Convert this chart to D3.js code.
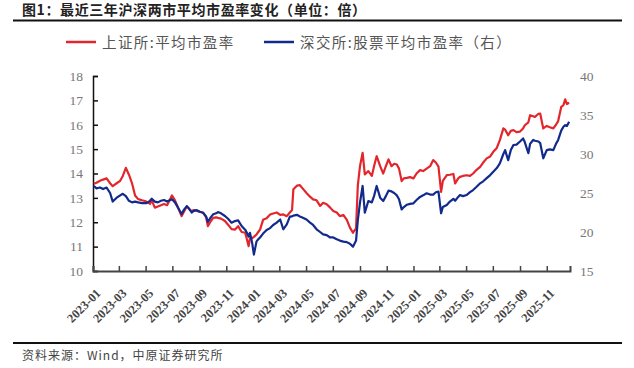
<!DOCTYPE html>
<html>
<head>
<meta charset="utf-8">
<script src="https://cdn.jsdelivr.net/npm/d3@7"></script>
<style>
  html, body { margin: 0; padding: 0; background: #fff; }
  svg { display: block; }
</style>
</head>
<body>
<svg id="chart" width="634" height="368"></svg>
<script>
const titleText = "图1：最近三年沪深两市平均市盈率变化（单位：倍）";
const sourceText = "资料来源：Wind，中原证券研究所";
const seriesNames = ["上证所:平均市盈率", "深交所:股票平均市盈率（右）"];

const dates = [
"2023-01-03","2023-01-09","2023-01-17","2023-01-24","2023-02-01","2023-02-09","2023-02-15","2023-02-24",
"2023-03-04","2023-03-10","2023-03-17","2023-03-24","2023-03-31","2023-04-07","2023-04-14","2023-04-23",
"2023-05-03","2023-05-11","2023-05-15","2023-05-22","2023-05-29","2023-06-05","2023-06-12","2023-06-19",
"2023-06-30","2023-07-07","2023-07-14","2023-07-22","2023-07-28","2023-08-03","2023-08-08","2023-08-14",
"2023-08-19","2023-08-26","2023-09-02","2023-09-09","2023-09-16","2023-09-20","2023-09-27","2023-10-02",
"2023-10-09","2023-10-13","2023-10-20","2023-10-29","2023-11-05","2023-11-13","2023-11-21","2023-11-28",
"2023-12-06","2023-12-14","2023-12-18","2023-12-22","2023-12-25","2023-12-30","2024-01-03","2024-01-09",
"2024-01-13","2024-01-17","2024-01-24","2024-02-01","2024-02-09","2024-02-16","2024-02-24","2024-03-03",
"2024-03-10","2024-03-18","2024-03-25","2024-03-30","2024-04-02","2024-04-10","2024-04-17","2024-04-25",
"2024-05-02","2024-05-10","2024-05-17","2024-05-25","2024-06-02","2024-06-09","2024-06-17","2024-06-25",
"2024-07-02","2024-07-10","2024-07-17","2024-07-25","2024-08-02","2024-08-09","2024-08-16","2024-08-23",
"2024-08-27","2024-09-01","2024-09-07","2024-09-12","2024-09-20","2024-09-28","2024-10-03","2024-10-09",
"2024-10-17","2024-10-24","2024-10-30","2024-11-05","2024-11-12","2024-11-18","2024-11-24","2024-11-29",
"2024-12-05","2024-12-10","2024-12-17","2024-12-24","2025-01-01","2025-01-08","2025-01-16","2025-01-23",
"2025-01-31","2025-02-08","2025-02-15","2025-02-21","2025-02-27","2025-03-05","2025-03-09","2025-03-18",
"2025-03-25","2025-04-02","2025-04-06","2025-04-13","2025-04-17","2025-04-24","2025-05-02","2025-05-10",
"2025-05-17","2025-05-25","2025-06-02","2025-06-09","2025-06-17","2025-06-25","2025-07-02","2025-07-10",
"2025-07-17","2025-07-25","2025-07-29","2025-08-05","2025-08-11","2025-08-17","2025-08-24","2025-09-01",
"2025-09-08","2025-09-12","2025-09-20","2025-09-24","2025-10-01","2025-10-05","2025-10-13","2025-10-17",
"2025-10-24","2025-11-01","2025-11-08","2025-11-16","2025-11-22","2025-11-27","2025-12-04","2025-12-09",
"2025-12-13","2025-12-17","2025-12-22"
];

const shPE = [
13.58,13.62,13.70,13.75,13.80,13.60,13.48,13.60,
13.70,13.90,14.23,13.95,13.60,13.10,12.95,12.90,
12.85,12.75,12.90,12.60,12.65,12.70,12.75,12.70,
13.10,12.90,12.60,12.25,12.45,12.66,12.55,12.45,
12.50,12.46,12.42,12.40,12.20,11.84,12.05,12.18,
12.20,12.18,12.15,12.05,11.90,11.72,11.70,11.84,
11.60,11.57,11.30,11.02,11.34,11.35,11.40,11.50,
11.60,11.70,12.10,12.16,12.32,12.36,12.40,12.30,
12.32,12.25,12.40,12.50,13.35,13.50,13.52,13.35,
13.20,13.05,12.94,12.90,12.67,12.80,12.74,12.60,
12.46,12.40,12.25,12.30,12.10,11.78,11.57,11.75,
13.50,14.30,14.85,13.96,14.10,13.90,14.30,14.71,
14.30,14.00,14.30,14.58,14.30,14.40,14.37,14.20,
13.69,13.80,13.82,13.85,13.80,14.00,14.14,14.10,
14.20,14.30,14.55,14.45,14.28,13.25,13.70,13.93,
13.95,13.98,13.59,13.80,13.86,13.90,13.93,13.90,
14.00,14.15,14.27,14.45,14.62,14.70,14.89,15.05,
15.37,15.85,15.80,15.57,15.75,15.78,15.70,15.72,
15.85,15.98,16.10,16.39,16.35,16.32,16.45,16.46,
15.85,15.95,15.90,15.85,16.00,16.15,16.73,16.80,
17.04,16.85,16.90
];

const szPE = [
25.9,25.6,25.7,25.5,25.7,25.0,23.9,24.4,
24.7,24.9,24.6,24.0,23.8,23.9,23.8,23.7,
23.7,24.0,24.27,23.9,23.8,24.0,24.1,23.9,
24.2,23.8,23.1,22.3,22.9,23.3,23.0,22.5,
22.7,22.8,22.6,22.47,22.0,21.3,21.9,22.27,
22.4,22.56,22.4,22.05,21.7,21.2,21.4,21.5,
20.77,20.3,19.9,19.4,19.9,18.6,17.1,18.8,
19.06,19.3,19.8,20.26,20.5,20.9,21.2,21.6,
20.35,20.98,21.96,22.0,22.1,22.2,22.0,21.8,
21.6,21.2,20.9,20.35,20.0,19.7,19.6,19.3,
19.3,19.06,18.9,18.76,18.7,18.5,18.12,18.9,
21.5,23.76,25.9,22.47,23.97,23.8,24.6,25.9,
24.4,23.97,24.6,25.3,25.2,25.0,24.7,24.2,
22.9,23.2,23.5,23.6,23.68,24.1,24.5,24.7,
24.96,24.8,24.8,25.1,25.17,22.4,23.2,23.46,
23.9,24.25,24.0,24.5,24.74,24.6,24.74,25.1,
25.38,25.8,26.24,26.5,26.9,27.3,27.73,28.2,
28.8,30.0,30.5,29.2,30.5,31.15,31.2,31.6,
32.0,31.5,30.1,31.3,31.8,31.7,31.6,31.4,
29.45,30.5,30.6,30.5,31.3,31.8,33.0,33.5,
33.7,33.6,34.15
];

const leftTicks = [10, 11, 12, 13, 14, 15, 16, 17, 18];
const rightTicks = [15, 20, 25, 30, 35, 40];
const xTickLabels = ["2023-01","2023-03","2023-05","2023-07","2023-09","2023-11",
  "2024-01","2024-03","2024-05","2024-07","2024-09","2024-11",
  "2025-01","2025-03","2025-05","2025-07","2025-09","2025-11"];

const colors = ["#e3262b", "#112a8b"];

const parse = d3.timeParse("%Y-%m-%d");
const parseMonth = d3.timeParse("%Y-%m");
const fmtMonth = d3.timeFormat("%Y-%m");

const svg = d3.select("#chart");
const cjk = "'Noto Sans CJK SC', 'Noto Sans', sans-serif";
const serif = "'Liberation Serif', 'DejaVu Serif', serif";

// Title
svg.append("text").attr("x", 22).attr("y", 15)
  .attr("font-family", cjk).attr("font-size", 14).attr("font-weight", "bold")
  .attr("letter-spacing", 0.6)
  .attr("fill", "#222").text(titleText);
svg.append("line").attr("x1", 13).attr("x2", 622).attr("y1", 20.5).attr("y2", 20.5)
  .attr("stroke", "#111").attr("stroke-width", 2);

// Legend
const legendItems = [
  { x: 66, tx: 102, name: seriesNames[0], color: colors[0] },
  { x: 264, tx: 300, name: seriesNames[1], color: colors[1] }
];
legendItems.forEach(it => {
  svg.append("line").attr("x1", it.x).attr("x2", it.x + 30).attr("y1", 42).attr("y2", 42)
    .attr("stroke", it.color).attr("stroke-width", 2.5);
  svg.append("text").attr("x", it.tx).attr("y", 47.5)
    .attr("font-family", cjk).attr("font-size", 14.5).attr("fill", "#555")
    .attr("letter-spacing", 1.4)
    .text(it.name);
});

// Scales
const x = d3.scaleTime().domain([new Date(2023, 0, 1), new Date(2025, 11, 24)]).range([93, 570]);
const yL = d3.scaleLinear().domain([10, 18]).range([271, 76]);
const yR = d3.scaleLinear().domain([15, 40]).range([271, 76]);

// Axes
const gL = svg.append("g").attr("transform", "translate(93,0)")
  .call(d3.axisLeft(yL).tickValues(leftTicks).tickSize(-5).tickPadding(10).tickFormat(d3.format("d")));
gL.select(".domain").attr("stroke", "#111").attr("stroke-width", 1.5);
gL.selectAll(".tick line").attr("stroke", "#111").attr("stroke-width", 1.5);
gL.selectAll(".tick text").attr("font-family", serif).attr("font-size", 13.5).attr("fill", "#777");

const gR = svg.append("g").attr("transform", "translate(570,0)")
  .call(d3.axisRight(yR).tickValues(rightTicks).tickSize(0).tickPadding(10).tickFormat(d3.format("d")));
gR.select(".domain").remove();
gR.selectAll(".tick text").attr("font-family", serif).attr("font-size", 13.5).attr("fill", "#777");

// Lines
const lineL = d3.line().x((d, i) => x(parse(dates[i]))).y(d => yL(d));
const lineR = d3.line().x((d, i) => x(parse(dates[i]))).y(d => yR(d));

svg.append("path").datum(shPE).attr("d", lineL)
  .attr("fill", "none").attr("stroke", colors[0]).attr("stroke-width", 2.2).attr("stroke-linejoin", "round");
svg.append("path").datum(szPE).attr("d", lineR)
  .attr("fill", "none").attr("stroke", colors[1]).attr("stroke-width", 2.2).attr("stroke-linejoin", "round");

// Bottom axis
const gB = svg.append("g").attr("transform", "translate(0,271)")
  .call(d3.axisBottom(x).tickValues(xTickLabels.map(parseMonth)).tickSize(-5).tickFormat(fmtMonth));
gB.select(".domain").attr("stroke", "#444").attr("stroke-width", 2);
gB.selectAll(".tick line").attr("stroke", "#444").attr("stroke-width", 1.5);
gB.selectAll(".tick text")
  .attr("font-family", serif).attr("font-size", 12.5).attr("font-weight", "bold").attr("fill", "#444")
  .attr("text-anchor", "end").attr("dy", null).attr("y", 0)
  .attr("transform", "translate(8,23) rotate(-45)");

// Footer
svg.append("line").attr("x1", 13).attr("x2", 622).attr("y1", 343).attr("y2", 343)
  .attr("stroke", "#111").attr("stroke-width", 2);
svg.append("text").attr("x", 22).attr("y", 360)
  .attr("font-family", cjk).attr("font-size", 12).attr("fill", "#444")
  .attr("letter-spacing", 1)
  .text(sourceText);
</script>
</body>
</html>
